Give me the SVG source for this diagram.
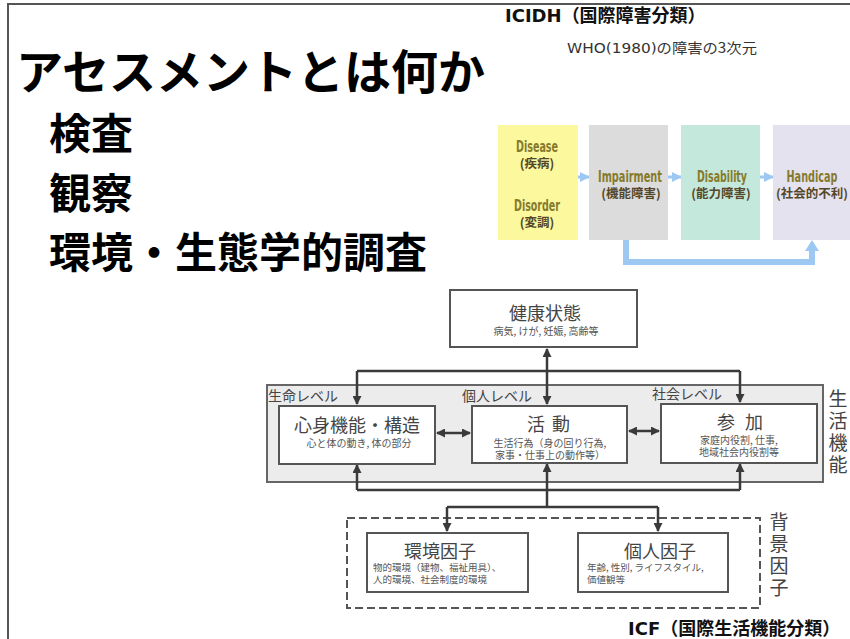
<svg xmlns="http://www.w3.org/2000/svg" width="850" height="639" viewBox="0 0 850 639">
<style>
.jp{font-family:"Noto Sans CJK JP","Noto Sans",sans-serif}
.lat{font-family:"DejaVu Sans","Noto Sans CJK JP",sans-serif}
.ttl{font-weight:bold;fill:#000}
.ic{font-family:"Liberation Sans Narrow","DejaVu Sans Condensed","Liberation Sans",sans-serif;font-weight:bold;font-size:15px;fill:#857a2b}
.icj{font-family:"Noto Sans CJK JP",sans-serif;font-weight:bold;font-size:12.5px;fill:#55482a}
.icw{text-anchor:middle}
.box{fill:#fff;stroke:#555;stroke-width:2}
.tb{font-family:"Noto Sans CJK JP",sans-serif;text-anchor:middle}
.t1{font-size:18px;fill:#444}
.t2{font-size:10px;fill:#555}
.t3{font-family:"Noto Sans CJK JP",sans-serif;font-size:9.5px;fill:#555}
.lv{font-family:"Noto Sans CJK JP",sans-serif;font-size:14px;fill:#444}
.vt{font-family:"Noto Sans CJK JP",sans-serif;font-size:19px;fill:#444;writing-mode:vertical-rl;letter-spacing:3px}
.cn{stroke:#3a3a3a;stroke-width:2.5;fill:none}
.bl{stroke:#9cc8f2;fill:none}
</style>
<defs>
<marker id="ah" markerUnits="userSpaceOnUse" markerWidth="9" markerHeight="9" refX="8" refY="4.5" orient="auto-start-reverse"><path d="M0,0 L9,4.5 L0,9 z" fill="#3a3a3a"/></marker>
<marker id="bh" markerUnits="userSpaceOnUse" markerWidth="10" markerHeight="10" refX="9" refY="5" orient="auto"><path d="M0,0 L10,5 L0,10 z" fill="#9cc8f2"/></marker>
</defs>
<rect x="0" y="0" width="850" height="639" fill="#fff"/>
<path d="M8 639 V4 H850" fill="none" stroke="#555" stroke-width="2"/>

<g id="title">
<text class="jp ttl" x="16" y="89" font-size="47">アセスメントとは何か</text>
<text class="jp ttl" x="49" y="149" font-size="42">検査</text>
<text class="jp ttl" x="49" y="209" font-size="42">観察</text>
<text class="jp ttl" x="49" y="268" font-size="42">環境・生態学的調査</text>
</g>

<g id="icidh-head">
<text x="505" y="22" font-size="18" font-weight="bold" fill="#111"><tspan class="lat">ICIDH</tspan><tspan class="jp">（国際障害分類）</tspan></text>
<text x="567" y="53" font-size="14" fill="#333" textLength="190" lengthAdjust="spacingAndGlyphs"><tspan class="lat">WHO(1980)</tspan><tspan class="jp">の障害の3次元</tspan></text>
</g>

<g id="icidh-connectors">
<line class="bl" x1="578" y1="177" x2="589" y2="177" stroke-width="3" marker-end="url(#bh)"/>
<line class="bl" x1="668" y1="177" x2="681" y2="177" stroke-width="3" marker-end="url(#bh)"/>
<line class="bl" x1="760" y1="177" x2="773" y2="177" stroke-width="3" marker-end="url(#bh)"/>
<path class="bl" d="M626 240 V262 H812 V250" stroke-width="6"/>
<path d="M805 251 L812 240 L819 251 z" fill="#9cc8f2"/>
</g>

<g id="disease">
<rect x="498" y="125" width="80" height="115" fill="#fbf89e"/>
<text class="icw"><tspan class="ic" x="537" y="152" textLength="42" lengthAdjust="spacingAndGlyphs">Disease</tspan><tspan class="icj" x="537" y="168">(疾病)</tspan><tspan class="ic" x="537" y="211" textLength="46" lengthAdjust="spacingAndGlyphs">Disorder</tspan><tspan class="icj" x="537" y="227">(変調)</tspan></text>
</g>
<g id="impairment">
<rect x="589" y="125" width="79" height="115" fill="#dcdcdc"/>
<text class="icw"><tspan class="ic" x="630" y="182" textLength="64" lengthAdjust="spacingAndGlyphs">Impairment</tspan><tspan class="icj" x="631" y="198">(機能障害)</tspan></text>
</g>
<g id="disability">
<rect x="681" y="125" width="79" height="115" fill="#c4e8dc"/>
<text class="icw"><tspan class="ic" x="722" y="182" textLength="50" lengthAdjust="spacingAndGlyphs">Disability</tspan><tspan class="icj" x="721" y="198">(能力障害)</tspan></text>
</g>
<g id="handicap">
<rect x="773" y="125" width="77" height="115" fill="#e5e2f0"/>
<text class="icw"><tspan class="ic" x="812" y="182" textLength="51" lengthAdjust="spacingAndGlyphs">Handicap</tspan><tspan class="icj" x="812" y="198">(社会的不利)</tspan></text>
</g>

<g id="seikatsu-kinou">
<rect x="267" y="385" width="556" height="97" fill="#ececec" stroke="#666" stroke-width="2"/>
<text class="vt" x="838" y="389">生活機能</text>
<text class="lv" x="268" y="401">生命レベル</text>
<text class="lv" x="462" y="401">個人レベル</text>
<text class="lv" x="652" y="399">社会レベル</text>
</g>

<g id="haikei">
<rect x="347" y="518" width="413" height="90" fill="none" stroke="#555" stroke-width="2" stroke-dasharray="8 4"/>
<text class="vt" x="779" y="512">背景因子</text>
</g>

<g id="connectors">
<line class="cn" x1="547" y1="349" x2="547" y2="404" marker-start="url(#ah)" marker-end="url(#ah)"/>
<path class="cn" d="M357 371 H740"/>
<line class="cn" x1="357" y1="371" x2="357" y2="404" marker-end="url(#ah)"/>
<line class="cn" x1="740" y1="371" x2="740" y2="402" marker-end="url(#ah)"/>
<line class="cn" x1="437" y1="433" x2="470" y2="433" marker-start="url(#ah)" marker-end="url(#ah)"/>
<line class="cn" x1="629" y1="431" x2="659" y2="431" marker-start="url(#ah)" marker-end="url(#ah)"/>
<path class="cn" d="M357 490 H740"/>
<line class="cn" x1="357" y1="490" x2="357" y2="465" marker-end="url(#ah)"/>
<line class="cn" x1="547" y1="507" x2="547" y2="464" marker-end="url(#ah)"/>
<line class="cn" x1="740" y1="490" x2="740" y2="464" marker-end="url(#ah)"/>
<path class="cn" d="M447 507 H658"/>
<line class="cn" x1="447" y1="507" x2="447" y2="531" marker-end="url(#ah)"/>
<line class="cn" x1="658" y1="507" x2="658" y2="531" marker-end="url(#ah)"/>
</g>

<g id="kenkou">
<rect class="box" x="450" y="290" width="187" height="57"/>
<text class="tb"><tspan class="t1" x="545" y="320">健康状態</tspan><tspan class="t2" x="546" y="335">病気, けが, 妊娠, 高齢等</tspan></text>
</g>
<g id="shinshin">
<rect class="box" x="279" y="406" width="156" height="58"/>
<text class="tb"><tspan class="t1" x="357" y="432">心身機能・構造</tspan><tspan class="t2" x="359" y="447">心と体の動き, 体の部分</tspan></text>
</g>
<g id="katsudou">
<rect class="box" x="472" y="406" width="155" height="57"/>
<text class="tb"><tspan class="t1" x="536" y="431">活</tspan><tspan class="t1" x="561" y="431">動</tspan><tspan class="t2" x="550" y="447">生活行為（身の回り行為,</tspan><tspan class="t2" x="550" y="459">家事・仕事上の動作等）</tspan></text>
</g>
<g id="sanka">
<rect class="box" x="661" y="404" width="156" height="59"/>
<text class="tb"><tspan class="t1" x="726" y="429">参</tspan><tspan class="t1" x="754" y="429">加</tspan><tspan class="t2" x="739" y="444">家庭内役割, 仕事,</tspan><tspan class="t2" x="739" y="456">地域社会内役割等</tspan></text>
</g>
<g id="kankyou">
<rect class="box" x="367" y="533" width="161" height="59"/>
<text class="t3"><tspan class="t1" x="440" y="558" style="text-anchor:middle">環境因子</tspan><tspan x="373" y="571">物的環境（建物、福祉用具）、</tspan><tspan x="373" y="583">人的環境、社会制度的環境</tspan></text>
</g>
<g id="kojin">
<rect class="box" x="578" y="533" width="150" height="59"/>
<text class="t3"><tspan class="t1" x="660" y="558" style="text-anchor:middle">個人因子</tspan><tspan x="587" y="571">年齢, 性別, ライフスタイル,</tspan><tspan x="587" y="583">価値観等</tspan></text>
</g>

<text x="628" y="635" font-size="18" font-weight="bold" fill="#111"><tspan class="lat">ICF</tspan><tspan class="jp">（国際生活機能分類）</tspan></text>
</svg>
